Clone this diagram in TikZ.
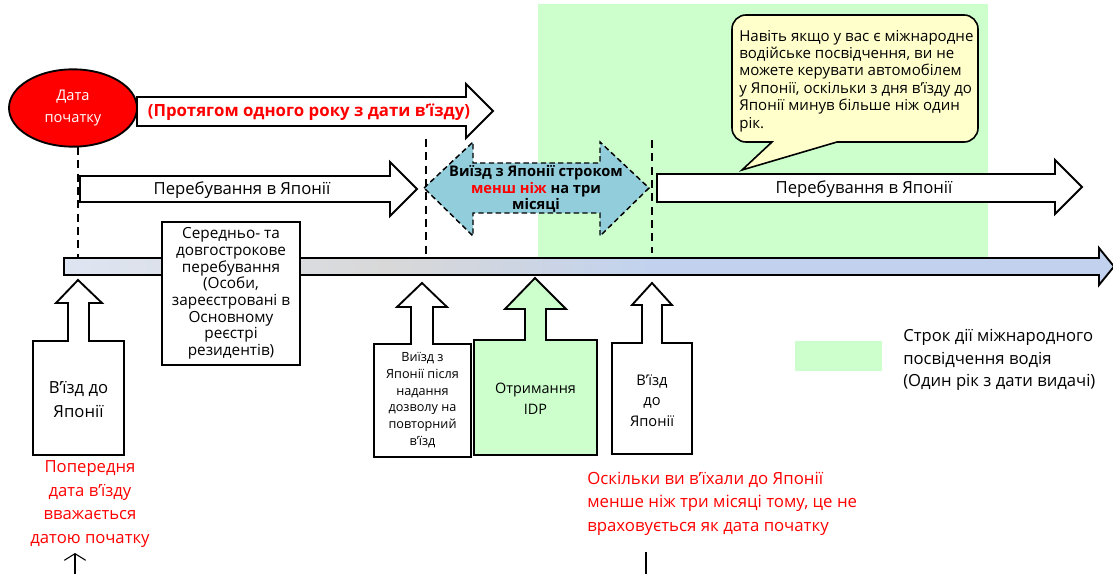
\documentclass[tikz,border=0pt]{standalone}
\usepackage{fontspec}
\setmainfont{Open Sans}
\usetikzlibrary{arrows.meta,shapes.geometric}

\definecolor{idpgreen}{RGB}{204,255,204}
\definecolor{tripblue}{RGB}{146,205,220}
\definecolor{noteyellow}{RGB}{255,255,204}
\definecolor{lineleft}{RGB}{222,229,242}
\definecolor{linemid}{RGB}{216,216,216}
\definecolor{lineright}{RGB}{194,210,238}

\newcommand{\fs}[2]{\fontsize{#1}{#2}\selectfont}

\begin{document}
\begin{tikzpicture}[x=0.75pt,y=-0.75pt,
  outline/.style={draw=black, line width=1.4pt, line join=miter},
  guide/.style={draw=black, line width=1.6pt, dash pattern=on 6pt off 4pt},
  label/.style={inner sep=0pt, align=center},
  redtext/.style={label, text=red}]

\useasboundingbox (0,0) rectangle (1113,574);

% validity of the IDP
\fill[idpgreen] (538,4) rectangle (988,258);

% time axis
\fill[lineright] (64,258) -- (1099,258) -- (1099,248) -- (1114,266.5) -- (1099,285) -- (1099,275) -- (64,275) -- cycle;
\shade[left color=lineleft, right color=linemid] (64,258) rectangle (390,275);
\shade[left color=linemid, right color=lineright] (390,258) rectangle (650,275);
\draw[outline] (64,258) -- (1099,258) -- (1099,248) -- (1114,266.5) -- (1099,285) -- (1099,275) -- (64,275) -- cycle;

% one year
\draw[outline, fill=white] (137,97) -- (466,97) -- (466,84) -- (493,111) -- (466,138) -- (466,126) -- (137,126) -- cycle;
\node[label, text=red, font=\bfseries\fs{12.6}{14}] (oneyear) at (309,112) {(Протягом одного року з дати в'їзду)};

\node[ellipse, draw, line width=1.4pt, fill=red, minimum width=96pt, minimum height=58pt,
  text=white, align=center, inner sep=0pt, font=\fs{11}{16.5}] (start) at (73,108) {Дата\\початку};

% stays and trip
\draw[outline, fill=white] (80,176) -- (390,176) -- (390,162) -- (417,189) -- (390,216) -- (390,202) -- (80,202) -- cycle;
\node[label, font=\fs{12.5}{13}] (stay1) at (242,190) {Перебування в Японії};
\draw[outline, fill=white] (657,174) -- (1055,174) -- (1055,160) -- (1082,187) -- (1055,214) -- (1055,202) -- (657,202) -- cycle;
\node[label, font=\fs{12.5}{13}] (stay2) at (864,189) {Перебування в Японії};

\draw[fill=tripblue, line width=1.1pt, dash pattern=on 4pt off 2.5pt] (424,188) -- (473,142) -- (473,163) -- (600,163) -- (600,142) -- (649,188) -- (600,236) -- (600,213) -- (473,213) -- (473,236) -- cycle;
\node[label, font=\bfseries\fs{11}{12.4}] (trip) at (536,189) {Виїзд з Японії строком\\\textcolor{red}{менш ніж} на три\\місяці};

% guides
\coordinate (s0) at (78,147);
\coordinate (t0) at (78,258);
\coordinate (s1) at (426,139);
\coordinate (t1) at (426,254);
\coordinate (s2) at (652,140);
\coordinate (t2) at (652,253);
\foreach \from/\to in {s0/t0, s1/t1, s2/t2}
  \draw[guide] (\from) -- (\to);

% note
\draw[outline, line width=1.2pt, fill=noteyellow] (742,170) -- (772,142) [rounded corners=10.5pt]-- (732,142) -- (732,15) -- (978,15) -- (978,142) [sharp corners]-- (837,142) -- cycle;
\node[label, align=left, anchor=west, font=\fs{11.3}{13.1}] (note) at (739,81) {Навіть якщо у вас є міжнародне\\водійське посвідчення, ви не\\можете керувати автомобілем\\у Японії, оскільки з дня в’їзду до\\Японії минув більше ніж один\\рік.};

% long stay
\node[draw, line width=1.4pt, fill=white, minimum width=103.5pt, minimum height=107pt, align=center,
  inner sep=0pt, font=\fs{11.5}{12.5}] (longstay) at (231,293.5) {Середньо- та\\довгострокове\\перебування\\(Особи,\\зареєстровані в\\Основному\\реєстрі\\резидентів)};

% events
\draw[outline, fill=white] (33,455) -- (33,341) -- (68,341) -- (68,303) -- (56,303) -- (78,280) -- (102,303) -- (89,303) -- (89,341) -- (124,341) -- (124,455) -- cycle;
\node[label, font=\fs{12.5}{18}] (entry1) at (78.5,400) {В'їзд до\\Японії};

\draw[outline, fill=white] (374,457) -- (374,344) -- (411,344) -- (411,307) -- (397,307) -- (422,283) -- (447,307) -- (433,307) -- (433,344) -- (471,344) -- (471,457) -- cycle;
\node[label, font=\fs{9.5}{12.5}] (exit) at (422.5,400) {Виїзд з\\Японії після\\надання\\дозволу на\\повторний\\в'їзд};

\draw[outline, fill=idpgreen] (474,455) -- (474,340) -- (525,340) -- (525,309) -- (505,309) -- (535,278) -- (566,309) -- (546,309) -- (546,340) -- (597,340) -- (597,455) -- cycle;
\node[label, font=\fs{10.8}{15.75}] (idp) at (535.5,398.5) {Отримання\\IDP};

\draw[outline, fill=white] (612,454) -- (612,343) -- (642,343) -- (642,305) -- (632,305) -- (652,283) -- (672,305) -- (662,305) -- (662,343) -- (692,343) -- (692,454) -- cycle;
\node[label, font=\fs{11}{15.4}] (entry2) at (652,400.5) {В'їзд\\до\\Японії};

% red remarks
\node[redtext, font=\fs{12.5}{17.8}] (prevnote) at (90,504) {Попередня\\дата в’їзду\\вважається\\датою початку};
\coordinate (prevfoot) at (75,574);
\coordinate (prevtip) at (75,553);
\draw[line width=0.8pt, -{Straight Barb[length=5pt,width=16pt]}] (prevfoot) -- (prevtip);

\node[redtext, align=left, anchor=west, font=\fs{12.6}{17.6}] (shortnote) at (587,503.5) {Оскільки ви в'їхали до Японії\\менше ніж три місяці тому, це не\\враховується як дата початку};
\coordinate (shortfoot) at (646,574);
\coordinate (shorttop) at (646,552);
\draw[line width=0.8pt] (shortfoot) -- (shorttop);

% legend
\fill[idpgreen] (795,341) rectangle (882,371);
\node[label, align=left, anchor=west, font=\fs{12.5}{17}] (legend) at (903,360) {Строк дії міжнародного\\посвідчення водія\\(Один рік з дати видачі)};

\end{tikzpicture}
\end{document}
